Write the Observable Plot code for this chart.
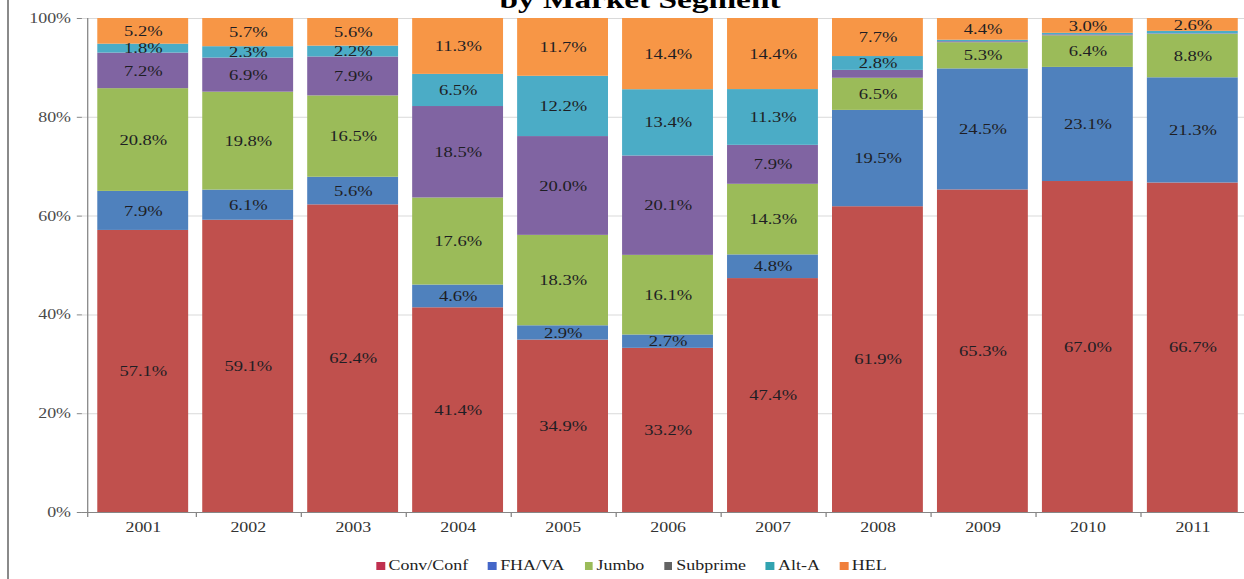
<!DOCTYPE html>
<html>
<head>
<meta charset="utf-8">
<script src="https://cdn.jsdelivr.net/npm/d3@7"></script>
<script src="https://cdn.jsdelivr.net/npm/@observablehq/plot@0.6"></script>
<style>
  html, body { margin: 0; padding: 0; background: #fff; width: 1244px; height: 579px; overflow: hidden; }
  #frameLine { position: absolute; left: 7px; top: 0; width: 2px; height: 579px; background: #8a8a8a; }
  #chart { position: absolute; left: 0; top: 0; width: 985px; height: 579px; transform-origin: 0 0; }
  #title { position: absolute; left: 0; top: -13px; width: 1000px; text-align: center;
           font: bold 26px "Liberation Serif", "Times New Roman", serif; line-height: 1; color: #000; }
  #plot { position: absolute; left: 0; top: 0; width: 985px; }
  #legend { position: absolute; left: 294px; top: 557px; display: flex; align-items: center; gap: 15.5px;
            font: 14px "Liberation Serif", "Times New Roman", serif; color: #222; white-space: nowrap; line-height: 18px; }
  #legend .item { display: flex; align-items: center; }
  #legend .sw { width: 6.5px; height: 8px; margin-right: 3px; }
</style>
</head>
<body>
<div id="frameLine"></div>
<div id="chart">
  <div id="title">by Market Segment</div>
  <div id="plot"></div>
  <div id="legend"></div>
</div>
<script>
// ---- data ----
const years = ["2001","2002","2003","2004","2005","2006","2007","2008","2009","2010","2011"];
const seriesNames = ["Conv/Conf","FHA/VA","Jumbo","Subprime","Alt-A","HEL"];
const convConf = [57.1,59.1,62.4,41.4,34.9,33.2,47.4,61.9,65.3,67.0,66.7];
const fhaVa    = [7.9,6.1,5.6,4.6,2.9,2.7,4.8,19.5,24.5,23.1,21.3];
const jumbo    = [20.8,19.8,16.5,17.6,18.3,16.1,14.3,6.5,5.3,6.4,8.8];
const subprime = [7.2,6.9,7.9,18.5,20.0,20.1,7.9,1.6,0.2,0.2,0.1];
const altA     = [1.8,2.3,2.2,6.5,12.2,13.4,11.3,2.8,0.3,0.3,0.5];
const hel      = [5.2,5.7,5.6,11.3,11.7,14.4,14.4,7.7,4.4,3.0,2.6];
const unlabeled = ["2008|Subprime","2009|Subprime","2009|Alt-A","2010|Subprime","2010|Alt-A","2011|Subprime","2011|Alt-A"];
const yTicks = [0,0.2,0.4,0.6,0.8,1];
const barColors = ["#C0504D","#4F81BD","#9BBB59","#8064A2","#4BACC6","#F79646"];
const legendColors = ["#C0304F","#4466C8","#9BBB59","#646464","#31A3B0","#F07F3C"];

const seriesValues = [convConf, fhaVa, jumbo, subprime, altA, hel];
const rows = [];
seriesNames.forEach((s, si) => years.forEach((y, yi) => rows.push({year: y, series: s, value: seriesValues[si][yi]})));

// ---- layout (horizontal stretch applied to the whole chart) ----
const stretch = 1.28;
document.getElementById("chart").style.transform = `scaleX(${stretch})`;
const W = 985, H = 545, mL = 64, mR = 2, mT = 18, mB = 33;
const pad = 0.14;
const step = 106 / stretch;            // band step
const firstBarStart = 92 / stretch;    // left edge of first bar
const r0 = firstBarStart - pad * step;
const r1 = r0 + step * (years.length - pad + 2 * pad);
const bw = (1 - pad) * step;
const leftOff = mL - (firstBarStart + bw / 2);

const stackOpts = {offset: "normalize", order: seriesNames, x: "year", y: "value", z: "series"};

const plot = Plot.plot({
  width: W, height: H,
  marginLeft: mL, marginRight: mR, marginTop: mT, marginBottom: mB,
  style: {fontFamily: '"Liberation Serif", "Times New Roman", serif', background: "transparent", overflow: "visible"},
  x: {type: "band", domain: years, padding: pad, range: [r0, r1], label: null},
  y: {domain: [0, 1], label: null},
  color: {domain: seriesNames, range: barColors},
  marks: [
    Plot.gridY(yTicks, {stroke: "#d9d9d9", strokeOpacity: 1}),
    Plot.barY(rows, Plot.stackY({...stackOpts, fill: "series"})),
    Plot.text(rows, Plot.stackY({...stackOpts,
      text: d => unlabeled.includes(d.year + "|" + d.series) ? "" : d.value.toFixed(1) + "%",
      fill: "#1e1e24", fontSize: 14.5})),
    Plot.ruleY([0], {stroke: "#868686"}),
    Plot.ruleX([years[0]], {dx: leftOff, y1: 1, y2: -0.01, stroke: "#868686"}),
    Plot.ruleX(years, {dx: step / 2, y1: 0, y2: -0.01, stroke: "#868686"}),
    Plot.axisY({ticks: yTicks, tickFormat: d => Math.round(d * 100) + "%", tickSize: 4, tickPadding: 5,
                fontSize: 14, stroke: "#868686", fill: "#4a4a4a", label: null}),
    Plot.axisX({tickSize: 0, tickPadding: 10, fontSize: 14, fill: "#333", label: null})
  ]
});
plot.style.width = W + "px";
plot.style.height = H + "px";
plot.style.maxWidth = "none";
document.getElementById("plot").appendChild(plot);

// ---- legend ----
const legend = document.getElementById("legend");
seriesNames.forEach((name, i) => {
  const item = document.createElement("div");
  item.className = "item";
  const sw = document.createElement("span");
  sw.className = "sw";
  sw.style.background = legendColors[i];
  const label = document.createElement("span");
  label.textContent = name;
  item.appendChild(sw);
  item.appendChild(label);
  legend.appendChild(item);
});
</script>
</body>
</html>
